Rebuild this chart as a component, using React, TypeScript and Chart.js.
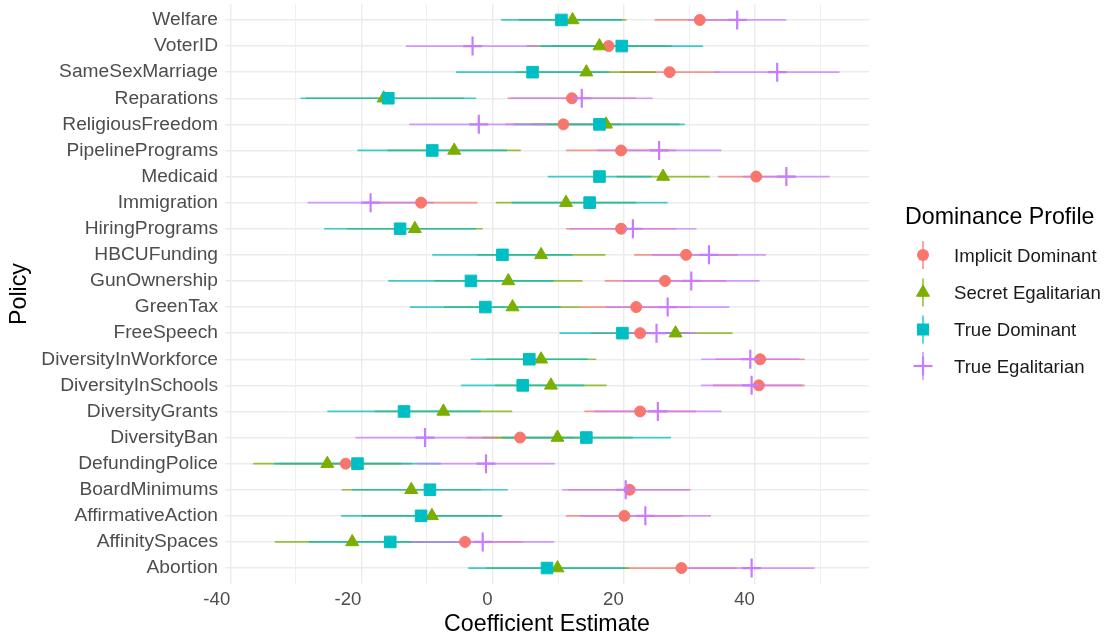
import React, { useEffect, useRef } from 'react';
import { Chart, registerables } from 'chart.js';

Chart.register(...registerables);

// ---------- data (bottom row first, ggplot discrete order) ----------
const policies = [
  'Abortion', 'AffinitySpaces', 'AffirmativeAction', 'BoardMinimums', 'DefundingPolice',
  'DiversityBan', 'DiversityGrants', 'DiversityInSchools', 'DiversityInWorkforce', 'FreeSpeech',
  'GreenTax', 'GunOwnership', 'HBCUFunding', 'HiringPrograms', 'Immigration', 'Medicaid',
  'PipelinePrograms', 'ReligiousFreedom', 'Reparations', 'SameSexMarriage', 'VoterID', 'Welfare',
];

const profiles = ['Implicit Dominant', 'Secret Egalitarian', 'True Dominant', 'True Egalitarian'];

const implicitDominantEst = [28.8, -4.2, 20.1, 20.9, -22.4, 4.2, 22.5, 40.6, 40.8, 22.5, 21.9, 26.3, 29.5, 19.6, -10.9, 40.2, 19.6, 10.8, 12.1, 27.0, 17.7, 31.6];
const implicitDominantLo = [20.4, -13.0, 11.2, 11.5, -32.5, -4.0, 14.0, 33.6, 34.0, 15.0, 13.5, 17.1, 21.6, 11.2, -19.5, 34.4, 11.2, 2.0, 2.3, 19.4, 9.0, 24.7];
const implicitDominantHi = [37.2, 4.6, 29.0, 30.2, -12.3, 12.4, 31.0, 47.6, 47.6, 30.0, 30.3, 35.6, 37.4, 28.0, -2.3, 46.0, 28.0, 19.6, 21.9, 34.6, 26.4, 38.5];

const secretEgalitarianEst = [9.9, -21.4, -9.25, -12.4, -25.2, 9.9, -7.5, 8.9, 7.4, 27.9, 3.05, 2.4, 7.4, -11.85, 11.2, 26.0, -5.85, 17.3, -16.6, 14.3, 16.3, 12.2];
const secretEgalitarianLo = [-1.0, -33.2, -20.0, -23.0, -36.5, -1.6, -18.0, 0.4, -1.0, 19.2, -7.4, -8.9, -2.4, -22.2, 0.5, 18.9, -16.0, 6.0, -28.5, 3.6, 5.2, 4.0];
const secretEgalitarianHi = [20.8, -9.6, 1.5, -1.8, -13.9, 21.4, 3.0, 17.4, 15.8, 36.6, 13.5, 13.7, 17.2, -1.5, 21.9, 33.1, 4.3, 28.5, -4.3, 24.9, 27.4, 20.4];

const trueDominantEst = [8.3, -15.6, -10.9, -9.55, -20.6, 14.3, -13.5, 4.6, 5.6, 19.8, -1.1, -3.3, 1.5, -14.1, 14.8, 16.3, -9.2, 16.3, -15.9, 6.1, 19.7, 10.5];
const trueDominantLo = [-3.7, -28.0, -23.1, -21.4, -33.3, 1.4, -25.2, -4.8, -3.3, 10.2, -12.6, -15.9, -9.2, -25.7, 2.9, 8.4, -20.6, 3.3, -29.3, -5.6, 7.3, 1.3];
const trueDominantHi = [20.3, -3.5, 1.3, 2.3, -7.9, 27.2, -1.8, 14.0, 14.5, 29.4, 10.4, 9.3, 12.2, -2.5, 26.7, 24.2, 2.2, 29.3, -2.5, 17.8, 32.1, 19.8];

const trueEgalitarianEst = [39.5, -1.5, 23.3, 20.3, -1.0, -10.3, 25.2, 39.5, 39.3, 25.0, 26.7, 30.3, 33.0, 21.4, -18.6, 44.8, 25.4, -2.1, 13.6, 43.4, -3.05, 37.3];
const trueEgalitarianLo = [29.9, -12.4, 13.3, 10.6, -11.5, -20.9, 15.5, 31.8, 31.8, 19.0, 17.3, 19.8, 24.3, 11.7, -28.2, 38.2, 16.0, -12.7, 2.8, 33.9, -13.2, 29.8];
const trueEgalitarianHi = [49.1, 9.4, 33.3, 30.0, 9.5, 0.3, 34.9, 47.2, 46.8, 31.0, 36.1, 40.7, 41.7, 31.1, -9.0, 51.4, 34.9, 8.5, 24.4, 52.9, 7.1, 44.8];

const xTickLabels = ['-40', '-20', '0', '20', '40'];

// ---------- styling ----------
const FONT = '"Liberation Sans", Arial, Helvetica, sans-serif';
const COLORS = ['#F8766D', '#7CAE00', '#00BFC4', '#C77CFF'];
const LINE_COLORS = ['rgba(248,118,109,0.75)', 'rgba(124,174,0,0.75)', 'rgba(0,191,196,0.75)', 'rgba(199,124,255,0.75)'];

const groups = [
  { est: implicitDominantEst, lo: implicitDominantLo, hi: implicitDominantHi, style: 'circle', radius: 5.5, bw: 1 },
  { est: secretEgalitarianEst, lo: secretEgalitarianLo, hi: secretEgalitarianHi, style: 'triangle', radius: 7.5, bw: 1 },
  { est: trueDominantEst, lo: trueDominantLo, hi: trueDominantHi, style: 'rect', radius: 8.2, bw: 1 },
  { est: trueEgalitarianEst, lo: trueEgalitarianLo, hi: trueEgalitarianHi, style: 'cross', radius: 9.5, bw: 2.2 },
];

function buildDatasets() {
  const ds: any[] = [];
  groups.forEach((g, gi) => {
    const seg: any[] = [];
    policies.forEach((_, i) => {
      seg.push({ x: g.lo[i], y: i }, { x: g.hi[i], y: i }, { x: null, y: null });
    });
    ds.push({
      label: profiles[gi] + ' CI',
      data: seg,
      showLine: true,
      spanGaps: false,
      borderColor: LINE_COLORS[gi],
      backgroundColor: LINE_COLORS[gi],
      borderWidth: 1.7,
      pointRadius: 0,
      pointHoverRadius: 0,
      order: 7 - gi,
    });
  });
  groups.forEach((g, gi) => {
    ds.push({
      label: profiles[gi],
      data: policies.map((_, i) => ({ x: g.est[i], y: i })),
      showLine: false,
      pointStyle: g.style,
      pointRadius: g.radius,
      pointHoverRadius: g.radius,
      pointBackgroundColor: COLORS[gi],
      pointBorderColor: COLORS[gi],
      pointBorderWidth: g.bw,
      backgroundColor: COLORS[gi],
      borderColor: COLORS[gi],
      order: 3 - gi,
    });
  });
  return ds;
}

const GRID = '#EBEBEB';

function Legend() {
  const gx = 923;
  const tx = 954;
  const rows = [255, 292.5, 329.5, 366];
  return (
    <svg width={1107} height={639} style={{ position: 'absolute', left: 0, top: 0, pointerEvents: 'none' }}>
      <text x={905} y={215.5} fontFamily={FONT} fontSize={23.2} fill="#000" dominantBaseline="central">
        Dominance Profile
      </text>
      {profiles.map((p, i) => {
        const cy = rows[i];
        let marker: any = null;
        if (i === 0) marker = <circle cx={gx} cy={cy} r={6} fill={COLORS[0]} />;
        if (i === 1)
          marker = (
            <polygon
              points={`${gx},${cy - 7.5} ${gx - 6.5},${cy + 3.75} ${gx + 6.5},${cy + 3.75}`}
              fill={COLORS[1]}
              stroke={COLORS[1]}
              strokeWidth={1}
            />
          );
        if (i === 2) marker = <rect x={gx - 6} y={cy - 6} width={12} height={12} fill={COLORS[2]} />;
        if (i === 3)
          marker = (
            <g stroke={COLORS[3]} strokeWidth={2.2}>
              <line x1={gx} y1={cy - 9.5} x2={gx} y2={cy + 9.5} />
              <line x1={gx - 9.5} y1={cy} x2={gx + 9.5} y2={cy} />
            </g>
          );
        return (
          <g key={p}>
            <line x1={gx} y1={cy - 14} x2={gx} y2={cy + 14} stroke={LINE_COLORS[i]} strokeWidth={1.7} />
            {marker}
            <text x={tx} y={cy} fontFamily={FONT} fontSize={18.6} fill="#1A1A1A" dominantBaseline="central">
              {p}
            </text>
          </g>
        );
      })}
    </svg>
  );
}

export default function App() {
  const ref = useRef<HTMLCanvasElement | null>(null);

  useEffect(() => {
    document.body.style.margin = '0';
    const canvas = ref.current;
    if (!canvas) return;
    const zeroPad = (s: any) => {
      s.paddingTop = 0;
      s.paddingBottom = 0;
      s.paddingLeft = 0;
      s.paddingRight = 0;
    };
    const chart = new Chart(canvas, {
      type: 'scatter',
      data: { datasets: buildDatasets() },
      options: {
        responsive: false,
        animation: false,
        events: [],
        devicePixelRatio: 1,
        layout: { autoPadding: false, padding: { left: 0, right: 238, top: 4.3, bottom: 0 } },
        plugins: { legend: { display: false }, tooltip: { enabled: false } },
        scales: {
          x: {
            type: 'linear',
            position: 'bottom',
            min: -40.8,
            max: 57.4,
            afterFit: (s: any) => {
              s.height = 55.3;
              zeroPad(s);
            },
            border: { display: false },
            grid: {
              drawTicks: false,
              color: GRID,
              lineWidth: (ctx: any) => {
                const v = ctx.tick ? Math.round(ctx.tick.value) : 0;
                return v % 20 === 0 ? 1.4 : 0.8;
              },
            },
            ticks: {
              stepSize: 10,
              includeBounds: false,
              autoSkip: false,
              maxRotation: 0,
              minRotation: 0,
              align: 'end',
              padding: 5,
              color: '#4D4D4D',
              font: { family: FONT, size: 18.6 },
              callback: (v: any) => {
                const n = Math.round(Number(v));
                const s = String(n);
                return xTickLabels.includes(s) ? s : '';
              },
            },
            title: {
              display: true,
              text: 'Coefficient Estimate',
              color: '#000',
              font: { family: FONT, size: 23.2 },
              padding: { top: 0, bottom: 0 },
            },
          },
          y: {
            type: 'linear',
            min: -0.6,
            max: 21.6,
            afterFit: (s: any) => {
              s.width = 225;
              zeroPad(s);
            },
            border: { display: false },
            grid: { drawTicks: false, color: GRID, lineWidth: 1.4 },
            ticks: {
              stepSize: 1,
              includeBounds: false,
              autoSkip: false,
              padding: 7,
              color: '#4D4D4D',
              font: { family: FONT, size: 19.2 },
              callback: (v: any) => {
                const n = Math.round(Number(v));
                return Math.abs(n - Number(v)) < 1e-6 && policies[n] ? policies[n] : '';
              },
            },
            title: {
              display: true,
              text: 'Policy',
              color: '#000',
              font: { family: FONT, size: 23.2 },
              padding: { top: 6, bottom: 0 },
            },
          },
        },
      } as any,
    });
    return () => chart.destroy();
  }, []);

  return (
    <div style={{ position: 'relative', width: 1107, height: 639, background: '#fff' }}>
      <canvas ref={ref} width={1107} height={639} style={{ display: 'block' }} />
      <Legend />
    </div>
  );
}
